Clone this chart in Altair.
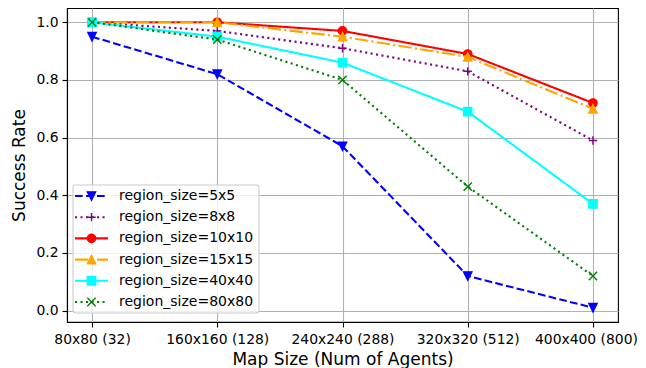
import altair as alt
import pandas as pd

x_labels = ["80x80 (32)", "160x160 (128)", "240x240 (288)", "320x320 (512)", "400x400 (800)"]
series_names = ["region_size=5x5", "region_size=8x8", "region_size=10x10",
                "region_size=15x15", "region_size=40x40", "region_size=80x80"]
rate_5x5 = [0.95, 0.82, 0.57, 0.12, 0.01]
rate_8x8 = [1.00, 0.97, 0.91, 0.83, 0.59]
rate_10x10 = [1.00, 1.00, 0.97, 0.89, 0.72]
rate_15x15 = [1.00, 1.00, 0.95, 0.88, 0.70]
rate_40x40 = [1.00, 0.95, 0.86, 0.69, 0.37]
rate_80x80 = [1.00, 0.94, 0.80, 0.43, 0.12]
all_rates = [rate_5x5, rate_8x8, rate_10x10, rate_15x15, rate_40x40, rate_80x80]

colors = ["#0000ff", "#800080", "#ff0000", "#ffa500", "#00ffff", "#008000"]
dashes = [[7.7, 3.3], [2.1, 3.4], [1, 0], [13.3, 3.3, 2.1, 3.3], [1, 0], [2.1, 3.4]]
shapes = ["M-1,-1L1,-1L0,1Z", "M-1,0L1,0M0,-1L0,1", "circle",
          "M0,-1L1,1L-1,1Z", "square", "M-1,-1L1,1M-1,1L1,-1"]

rows = []
for name, vals in zip(series_names, all_rates):
    for i, v in enumerate(vals):
        rows.append({"series": name, "xi": i, "rate": v})
df = pd.DataFrame(rows)
legend_df = pd.DataFrame({"series": series_names})

FONT = "DejaVu Sans"
cscale = alt.Scale(domain=series_names, range=colors)
dscale = alt.Scale(domain=series_names, range=dashes)
sscale = alt.Scale(domain=series_names, range=shapes)

label_expr = "[" + ",".join("'%s'" % l for l in x_labels) + "][datum.value]"

xenc = alt.X("xi:Q", scale=alt.Scale(domain=[-0.2, 4.2], nice=False, zero=False),
             axis=alt.Axis(values=[0, 1, 2, 3, 4], labelExpr=label_expr,
                           labelOffset={"condition": {"test": "datum.value == 4", "value": -7}, "value": 0},
                           title="Map Size (Num of Agents)"))
yenc = alt.Y("rate:Q", scale=alt.Scale(domain=[-0.0395, 1.0495], nice=False, zero=False),
             axis=alt.Axis(values=[0, 0.2, 0.4, 0.6, 0.8, 1.0], format=".1f",
                           title="Success Rate"))

layers = []
for name in series_names:
    base = alt.Chart(df).transform_filter(alt.datum.series == name)
    line = base.mark_line(strokeWidth=2.1).encode(
        x=xenc, y=yenc,
        color=alt.Color("series:N", scale=cscale, legend=None),
        strokeDash=alt.StrokeDash("series:N", scale=dscale, legend=None),
    )
    pts = base.mark_point(filled=True, size=69, strokeWidth=1.4, opacity=1).encode(
        x=xenc, y=yenc,
        fill=alt.Fill("series:N", scale=cscale, legend=None),
        stroke=alt.Stroke("series:N", scale=cscale, legend=None),
        shape=alt.Shape("series:N", scale=sscale, legend=None),
    )
    layers += [line, pts]

main = alt.layer(*layers)

# manual legend (matplotlib-like)
ly = alt.Y("series:N", scale=alt.Scale(type="point", domain=series_names, range=[188, 294], padding=0),
           axis=None)
leg_box = alt.Chart(legend_df).transform_filter(alt.datum.series == series_names[0]).mark_rect(
    fill="white", fillOpacity=0.8, stroke="#cccccc", strokeWidth=1.1, cornerRadius=3
).encode(x=alt.value(6), x2=alt.value(192), y=alt.value(177), y2=alt.value(305))
leg_line = alt.Chart(legend_df).mark_rule(strokeWidth=2.1).encode(
    x=alt.value(8), x2=alt.value(41), y=ly,
    color=alt.Color("series:N", scale=cscale, legend=None),
    strokeDash=alt.StrokeDash("series:N", scale=dscale, legend=None),
)
leg_pts = alt.Chart(legend_df).mark_point(filled=True, size=69, strokeWidth=1.4, opacity=1).encode(
    x=alt.value(24.5), y=ly,
    fill=alt.Fill("series:N", scale=cscale, legend=None),
    stroke=alt.Stroke("series:N", scale=cscale, legend=None),
    shape=alt.Shape("series:N", scale=sscale, legend=None),
)
leg_text = alt.Chart(legend_df).mark_text(align="left", baseline="middle", font=FONT,
                                          fontSize=14, color="black").encode(
    x=alt.value(52), y=ly, text="series:N")
legend = alt.layer(leg_box, leg_line, leg_pts, leg_text)

chart = alt.layer(main, legend).resolve_scale(y="independent").properties(
    width=551, height=314,
    autosize=alt.AutoSizeParams(type="none"),
    padding={"left": 59, "top": 0, "right": 20, "bottom": 46},
).configure_view(stroke="black", strokeWidth=1.1).configure_axis(
    labelFont=FONT, titleFont=FONT, labelFontSize=13.9, titleFontSize=17,
    labelColor="black", titleColor="black", titleFontWeight="normal",
    domainColor="black", domainWidth=1.1, tickColor="black", tickWidth=1.1, tickSize=5,
    labelPadding=4, gridColor="#b0b0b0", gridWidth=1.1, grid=True,
).configure_axisX(titlePadding=6, labelPadding=5).configure_axisY(titlePadding=7, labelPadding=4)

chart.save("out.html", embed_options={"renderer": "svg", "actions": False})
